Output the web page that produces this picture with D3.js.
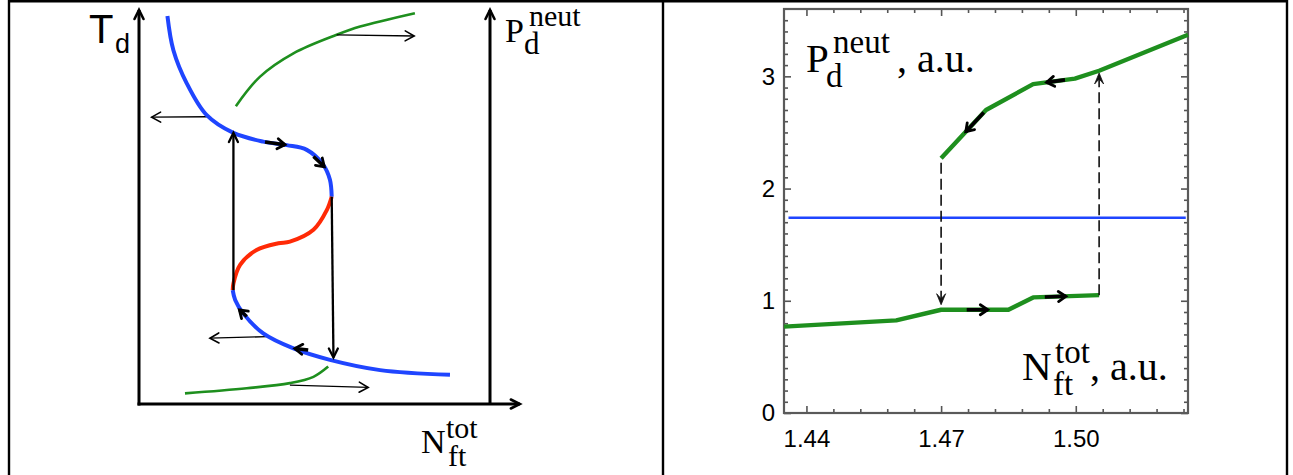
<!DOCTYPE html>
<html>
<head>
<meta charset="utf-8">
<script src="https://cdn.jsdelivr.net/npm/d3@7"></script>
<style>
  html, body { margin: 0; padding: 0; background: #fff; }
  svg { display: block; }
</style>
</head>
<body>
<svg id="fig" width="1293" height="475"></svg>
<script>
// ---------- Left panel: schematic S-curve T_d(N_ft^tot), schematic units 0..100 ----------
const upperStableX = [8.1, 9.8, 13.6, 19.3, 26.9, 35.4, 42.1, 47.8, 52.5, 54.4, 54.9];
const upperStableY = [98.5, 89.8, 81.4, 73.3, 68.8, 66.6, 65.7, 64.5, 60.7, 56.9, 52.6];
const unstableX    = [54.9, 53.5, 49.7, 43.0, 39.7, 33.5, 28.8, 26.9, 26.7];
const unstableY    = [52.6, 49.2, 44.2, 41.2, 40.8, 39.1, 35.3, 30.6, 28.9];
const lowerStableX = [26.7, 27.4, 29.7, 35.4, 44.0, 54.4, 68.7, 88.6];
const lowerStableY = [28.9, 26.4, 23.0, 17.9, 14.1, 11.2, 8.6, 7.4];
// neutral pressure branches (same schematic units)
const neutHighX = [27.6, 34.5, 44.0, 56.3, 63.0, 78.6];
const neutHighY = [75.6, 83.1, 89.0, 93.7, 95.8, 99.2];
const neutLowX  = [13.1, 30.7, 43.0, 49.7, 53.9];
const neutLowY  = [2.7, 4.0, 5.3, 6.9, 9.5];
// thin arrows mapping T_d states onto P_d^neut
const mapArrowFrom = [[56.3, 93.7], [19.3, 72.9], [36.4, 17.1], [43.0, 4.8]];
const mapArrowTo   = [[78.4, 93.4], [3.6, 72.8], [20.2, 16.7], [65.3, 4.2]];
// jumps between the stable branches
const jumpFrom = [[26.9, 28.9], [54.9, 52.6]];
const jumpTo   = [[26.9, 68.8], [55.4, 11.8]];
// direction of travel along the stable branches
const flowFrom = [[35.9, 66.5], [49.7, 62.8], [30.7, 22.2], [48.2, 13.7]];
const flowTo   = [[41.6, 65.8], [52.8, 60.2], [28.6, 23.9], [44.4, 14.1]];

// ---------- Right panel: P_d^neut vs N_ft^tot ----------
const lowerBranchN = [1.435, 1.46, 1.47, 1.485, 1.4905, 1.5052];
const lowerBranchP = [0.77, 0.825, 0.92, 0.92, 1.03, 1.05];
const upperBranchN = [1.47, 1.48, 1.4905, 1.4998, 1.5052, 1.525];
const upperBranchP = [2.27, 2.70, 2.93, 2.98, 3.05, 3.37];
const thresholdP = 1.74;
const thresholdN = [1.436, 1.5245];
const xTickValues = [1.44, 1.47, 1.50];
const xTickLabels = ["1.44", "1.47", "1.50"];
const yTickValues = [0, 1, 2, 3];
const yTickLabels = ["0", "1", "2", "3"];
// dashed transitions: [N, P from, P to]
const transitions = [[1.47, 2.23, 0.965], [1.5052, 1.05, 3.03]];
// flow arrows on the branches: [branch, N from, N to]
const branchFlow = [["upper", 1.4976, 1.4935], ["upper", 1.4795, 1.4755],
                    ["lower", 1.4757, 1.4804], ["lower", 1.4931, 1.4978]];

const BLUE = "#1f45ff", RED = "#ff2a06", GREEN = "#1e8f1e", INK = "#000";
const svg = d3.select("#fig");

// outer frame and divider
const frame = svg.append("g").attr("stroke", "#000").attr("stroke-width", 2.4);
frame.append("line").attr("x1", 9).attr("x2", 1288).attr("y1", 1.2).attr("y2", 1.2);
frame.append("line").attr("x1", 9).attr("x2", 9).attr("y1", 0).attr("y2", 475);
frame.append("line").attr("x1", 663).attr("x2", 663).attr("y1", 0).attr("y2", 475);
frame.append("line").attr("x1", 1287).attr("x2", 1287).attr("y1", 0).attr("y2", 475);

// arrow head helper: open chevron at `tip`, pointing away from `from`
function head(g, from, tip, len, spread, sw, color) {
  const dx = tip[0] - from[0], dy = tip[1] - from[1], L = Math.hypot(dx, dy);
  const ux = dx / L, uy = dy / L;
  const bx = tip[0] - ux * len, by = tip[1] - uy * len;
  const p1 = [bx - uy * spread, by + ux * spread], p2 = [bx + uy * spread, by - ux * spread];
  g.append("path").attr("d", `M${p1}L${tip}L${p2}`)
    .attr("fill", "none").attr("stroke", color).attr("stroke-width", sw)
    .attr("stroke-linecap", "round").attr("stroke-linejoin", "miter");
}
function arrow(g, from, to, opt) {
  g.append("line").attr("x1", from[0]).attr("y1", from[1]).attr("x2", to[0]).attr("y2", to[1])
    .attr("stroke", opt.color || INK).attr("stroke-width", opt.sw).attr("stroke-dasharray", opt.dash || null);
  head(g, from, to, opt.len, opt.spread, opt.hsw || opt.sw, opt.color || INK);
}

// label with sub/superscripts: parts = [[string, x, baseline, size], ...]
const sans = "'Liberation Sans', Arial, sans-serif", serif = "'Liberation Serif', 'Times New Roman', serif";
function label(g, fam, parts) {
  const t = g.append("text").attr("font-family", fam).attr("fill", "#000");
  parts.forEach(([s, x, y, size]) => {
    t.append("tspan").attr("x", x).attr("y", y).attr("font-size", size).text(s);
  });
  return t;
}

// ================= Left panel =================
const xL = d3.scaleLinear().domain([0, 100]).range([139, 490]);
const yL = d3.scaleLinear().domain([0, 100]).range([404, 10]);
const gL = svg.append("g");
const lineL = d3.line().x(d => xL(d[0])).y(d => yL(d[1])).curve(d3.curveCatmullRom.alpha(0.5));
const zip = (xs, ys) => xs.map((x, i) => [x, ys[i]]);

// axes with arrows
const axL = gL.append("g");
arrow(axL, [xL(0), yL(0) + 1.5], [xL(0), yL(100)], { sw: 3, len: 9, spread: 4.5, hsw: 2.6 });
arrow(axL, [xL(0) - 1.5, yL(0)], [xL(108.5), yL(0)], { sw: 3, len: 9, spread: 4.5, hsw: 2.6 });
arrow(axL, [xL(100), yL(0)], [xL(100), yL(100)], { sw: 3, len: 9, spread: 4.5, hsw: 2.6 });

// neutral pressure branches
gL.append("path").attr("d", lineL(zip(neutHighX, neutHighY)))
  .attr("fill", "none").attr("stroke", GREEN).attr("stroke-width", 2.6);
gL.append("path").attr("d", lineL(zip(neutLowX, neutLowY)))
  .attr("fill", "none").attr("stroke", GREEN).attr("stroke-width", 2.6);

// thin mapping arrows
mapArrowFrom.forEach((f, i) => {
  arrow(gL, [xL(f[0]), yL(f[1])], [xL(mapArrowTo[i][0]), yL(mapArrowTo[i][1])],
    { sw: 1.3, len: 9, spread: 5, hsw: 1.6 });
});

// S-curve
[[upperStableX, upperStableY, BLUE], [unstableX, unstableY, RED], [lowerStableX, lowerStableY, BLUE]]
  .forEach(([xs, ys, c]) => {
    gL.append("path").attr("d", lineL(zip(xs, ys)))
      .attr("fill", "none").attr("stroke", c).attr("stroke-width", 4).attr("stroke-linecap", "butt");
  });

// jump arrows
jumpFrom.forEach((f, i) => {
  arrow(gL, [xL(f[0]), yL(f[1])], [xL(jumpTo[i][0]), yL(jumpTo[i][1])],
    { sw: 2.3, len: 9, spread: 4.5, hsw: 2.3 });
});
// flow arrows along branches
flowFrom.forEach((f, i) => {
  arrow(gL, [xL(f[0]), yL(f[1])], [xL(flowTo[i][0]), yL(flowTo[i][1])],
    { sw: 3.4, len: 7.5, spread: 5, hsw: 2.8 });
});

// axis titles
label(gL, sans, [["T", 89, 43, 40], ["d", 115, 53, 27]]);
label(gL, serif, [["P", 505, 42, 34], ["neut", 529, 26, 30], ["d", 524, 54, 31]]);
label(gL, serif, [["N", 421, 453, 34], ["tot", 446, 438, 30], ["ft", 448, 466, 30]]);

// ================= Right panel =================
const xR = d3.scaleLinear().domain([1.435, 1.525]).range([784, 1188]);
const yR = d3.scaleLinear().domain([0, 3.6]).range([413, 9]);
const gR = svg.append("g");

const minorX = d3.range(0, 16).map(i => +(1.44 + i * 0.006).toFixed(3))
  .filter(v => v <= 1.525 && !xTickValues.some(t => Math.abs(t - v) < 1e-6));
const minorY = d3.range(1, 36).map(i => +(i * 0.1).toFixed(1)).filter(v => v % 1 !== 0);

function styleAxis(sel) {
  sel.select(".domain").remove();
  sel.selectAll(".tick line").attr("stroke", "#555").attr("stroke-width", 1.6);
  sel.selectAll("text").attr("font-family", sans).attr("font-size", 24).attr("fill", "#000");
}
// bottom / top
gR.append("g").attr("transform", `translate(0,${yR(0)})`)
  .call(d3.axisBottom(xR).tickValues(xTickValues).tickFormat((d, i) => xTickLabels[i]).tickSize(-7).tickPadding(17))
  .call(styleAxis);
gR.append("g").attr("transform", `translate(0,${yR(0)})`)
  .call(d3.axisBottom(xR).tickValues(minorX).tickFormat("").tickSize(-4)).call(styleAxis);
gR.append("g").attr("transform", `translate(0,${yR(3.6)})`)
  .call(d3.axisTop(xR).tickValues(xTickValues).tickFormat("").tickSize(-7)).call(styleAxis);
gR.append("g").attr("transform", `translate(0,${yR(3.6)})`)
  .call(d3.axisTop(xR).tickValues(minorX).tickFormat("").tickSize(-4)).call(styleAxis);
// left / right
gR.append("g").attr("transform", `translate(${xR(1.435)},0)`)
  .call(d3.axisLeft(yR).tickValues(yTickValues).tickFormat((d, i) => yTickLabels[i]).tickSize(-7).tickPadding(9))
  .call(styleAxis);
gR.append("g").attr("transform", `translate(${xR(1.435)},0)`)
  .call(d3.axisLeft(yR).tickValues(minorY).tickFormat("").tickSize(-4)).call(styleAxis);
gR.append("g").attr("transform", `translate(${xR(1.525)},0)`)
  .call(d3.axisRight(yR).tickValues(yTickValues).tickFormat("").tickSize(-7)).call(styleAxis);
gR.append("g").attr("transform", `translate(${xR(1.525)},0)`)
  .call(d3.axisRight(yR).tickValues(minorY).tickFormat("").tickSize(-4)).call(styleAxis);

// plot frame
gR.append("rect").attr("x", xR(1.435)).attr("y", yR(3.6))
  .attr("width", xR(1.525) - xR(1.435)).attr("height", yR(0) - yR(3.6))
  .attr("fill", "none").attr("stroke", "#5a5a5a").attr("stroke-width", 2.2);

// threshold line
gR.append("line").attr("x1", xR(thresholdN[0])).attr("x2", xR(thresholdN[1]))
  .attr("y1", yR(thresholdP)).attr("y2", yR(thresholdP))
  .attr("stroke", BLUE).attr("stroke-width", 2.6);

// branches
const lineR = d3.line().x(d => xR(d[0])).y(d => yR(d[1]));
const branches = { lower: zip(lowerBranchN, lowerBranchP), upper: zip(upperBranchN, upperBranchP) };
Object.values(branches).forEach(b => {
  gR.append("path").attr("d", lineR(b)).attr("fill", "none")
    .attr("stroke", GREEN).attr("stroke-width", 4.4).attr("stroke-linejoin", "round");
});

// dashed transitions with narrow heads
transitions.forEach(([n, p0, p1]) => {
  const x = xR(n), y0 = yR(p0), y1 = yR(p1), s = Math.sign(y1 - y0);
  gR.append("line").attr("x1", x).attr("x2", x).attr("y1", y0).attr("y2", y1 - s * 3)
    .attr("stroke", "#111").attr("stroke-width", 1.6).attr("stroke-dasharray", "11,5");
  gR.append("path")
    .attr("d", `M${x},${y1}L${x - 4.5},${y1 - s * 11}L${x},${y1 - s * 6}L${x + 4.5},${y1 - s * 11}Z`)
    .attr("fill", "#111").attr("stroke", "#111").attr("stroke-width", 0.8).attr("stroke-linejoin", "miter");
});

// flow arrows on the branches
const interp = (b, n) => d3.scaleLinear().domain(b.map(d => d[0])).range(b.map(d => d[1]))(n);
branchFlow.forEach(([name, n0, n1]) => {
  const b = branches[name];
  arrow(gR, [xR(n0), yR(interp(b, n0))], [xR(n1), yR(interp(b, n1))],
    { sw: 3.6, len: 7.5, spread: 5, hsw: 2.8 });
});

// axis titles
label(gR, serif, [["P", 806, 72, 41], ["neut", 833, 53, 33], ["d", 826, 87, 33], [", a.u.", 897, 72, 40]]);
label(gR, serif, [["N", 1022, 380, 41], ["tot", 1055, 363, 33], ["ft", 1053, 395, 33], [", a.u.", 1090, 380, 40]]);
</script>
</body>
</html>
